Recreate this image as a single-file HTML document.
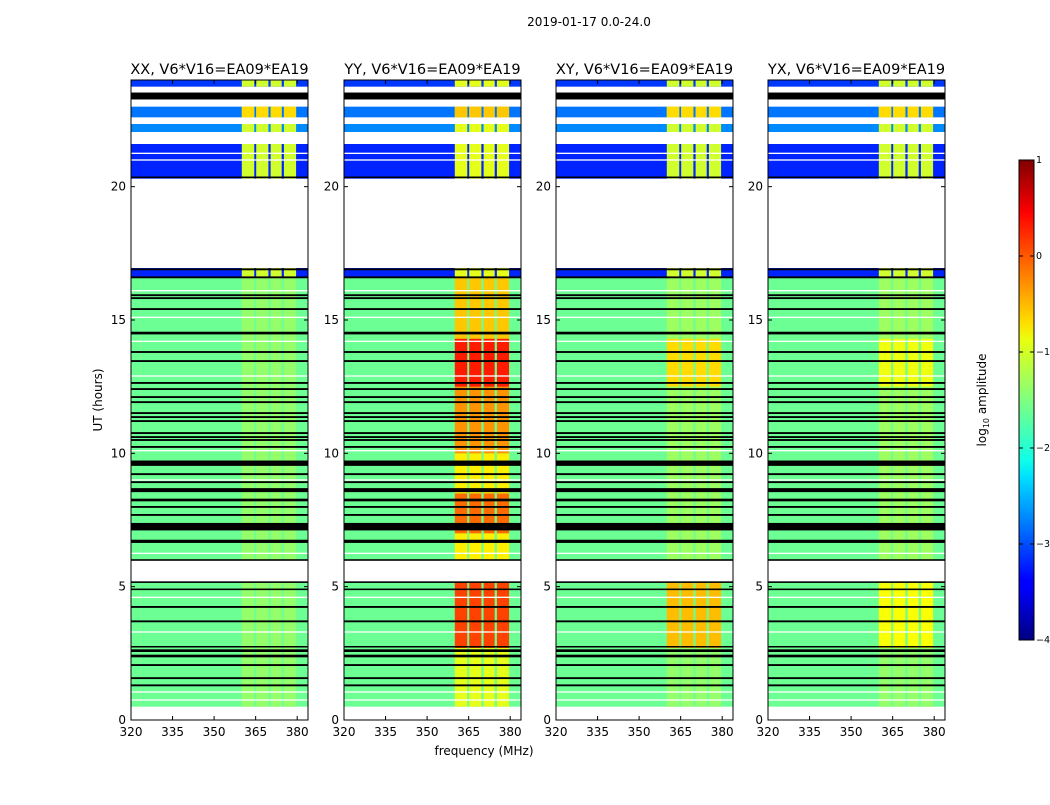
<!DOCTYPE html>
<html><head><meta charset="utf-8">
<style>
html,body{margin:0;padding:0;background:#fff;}
svg text{font-family:"DejaVu Sans","Liberation Sans",sans-serif;fill:#000;}
</style></head>
<body>
<svg id="fig" width="1050" height="800" viewBox="0 0 1050 800" xmlns="http://www.w3.org/2000/svg">
<rect x="0" y="0" width="1050" height="800" fill="#fff"/>
<text x="589" y="26" font-size="12" text-anchor="middle">2019-01-17 0.0-24.0</text>
<text x="484" y="755" font-size="12" text-anchor="middle">frequency (MHz)</text>
<text x="0" y="0" font-size="12" text-anchor="middle" transform="translate(102,400) rotate(-90)">UT (hours)</text>
<g id="panels"></g>
<defs>
<linearGradient id="jet" x1="0" y1="1" x2="0" y2="0">
<stop offset="0" stop-color="#000080"/><stop offset="0.11" stop-color="#0000ff"/><stop offset="0.125" stop-color="#0000ff"/>
<stop offset="0.34" stop-color="#00e0ff"/><stop offset="0.375" stop-color="#10ffe8"/><stop offset="0.5" stop-color="#80ff80"/>
<stop offset="0.625" stop-color="#e8ff10"/><stop offset="0.66" stop-color="#ffe000"/><stop offset="0.875" stop-color="#ff1000"/>
<stop offset="0.89" stop-color="#ff0000"/><stop offset="1" stop-color="#800000"/>
</linearGradient>
</defs>
<rect x="1019" y="160" width="15" height="480" fill="url(#jet)" stroke="#000" stroke-width="1"/>
<g id="cbticks"></g>
<text x="0" y="0" font-size="12" text-anchor="middle" transform="translate(986,400) rotate(-90)">log<tspan font-size="8" dy="3">10</tspan><tspan dy="-3"> amplitude</tspan></text>
</svg>
<script>
// ---- data ----
const panelTitles = ["XX, V6*V16=EA09*EA19","YY, V6*V16=EA09*EA19","XY, V6*V16=EA09*EA19","YX, V6*V16=EA09*EA19"];
const xTicks = [320,335,350,365,380];
const yTicks = [0,5,10,15,20];
const cbTicks = [1,0,-1,-2,-3,-4];
// data segments: [startHour, endHour, baseLog10Amp]
const segments = [[0.5,2.7,-1.6],[2.7,5.15,-1.6],[6.0,16.6,-1.6],[16.6,16.95,-3.2],[20.3,21.6,-3.2],[22.05,22.35,-2.7],[22.6,23.0,-2.8],[23.75,24,-3.1]];
// thin unflagged gaps (white rows): [hour, thickness]
const whiteLines = [[0.75,0.05],[1.05,0.05],[3.3,0.05],[4.6,0.05],[6.25,0.05],[9.0,0.05],[10.1,0.05],[12.9,0.05],[14.2,0.05],[15.1,0.05],[16.1,0.05],[21.0,0.05],[21.25,0.05]];
// flagged (black) rows: [hour, thickness in hours]
const blackLines = [[1.3,0.07],[1.57,0.07],[2.06,0.07],[2.4,0.1],[2.6,0.1],[2.75,0.05],[3.7,0.07],[4.24,0.07],[4.9,0.06],[5.17,0.06],[6.0,0.06],[6.7,0.12],[7.25,0.28],[7.69,0.07],[7.99,0.07],[8.25,0.1],[8.62,0.15],[8.92,0.07],[9.22,0.07],[9.63,0.2],[10.24,0.07],[10.5,0.07],[10.61,0.07],[10.76,0.07],[11.21,0.07],[11.36,0.07],[11.51,0.07],[11.92,0.07],[12.11,0.07],[12.41,0.07],[12.64,0.07],[13.46,0.07],[13.8,0.07],[14.51,0.1],[15.41,0.07],[15.82,0.07],[15.93,0.07],[16.6,0.07],[16.9,0.07],[20.35,0.06],[23.4,0.26]];
// RFI band (360-380 MHz) levels per panel: [start, end, log10Amp]
const bandXX = [[0.5,16.6,-1.4],[16.6,24,-1.1],[22.6,23.0,-0.7]];
const bandYY = [[0.5,2.7,-1.0],[2.7,5.15,0.05],[6.0,7.0,-0.8],[7.0,8.5,-0.15],[8.5,10.0,-0.8],[10.0,12.5,-0.35],[12.5,14.3,0.25],[14.3,16.6,-0.6],[16.6,24,-1.0],[22.6,23.0,-0.6]];
const bandXY = [[0.5,2.7,-1.4],[2.7,5.15,-0.55],[6.0,12.5,-1.35],[12.5,14.3,-0.7],[14.3,16.6,-1.35],[16.6,24,-1.1],[22.6,23.0,-0.7]];
const bandYX = [[0.5,2.7,-1.4],[2.7,5.15,-0.9],[6.0,12.5,-1.35],[12.5,14.3,-0.95],[14.3,16.6,-1.35],[16.6,24,-1.1],[22.6,23.0,-0.7]];
const bands = [bandXX,bandYY,bandXY,bandYX];
const subBands = [[360,364.5],[365.2,369.6],[370.4,374.4],[375.2,379.6]];

// ---- layout ----
const NS="http://www.w3.org/2000/svg";
const panelX=[131,344,556,768], PW=177, PT=80, PB=720;
const fMin=320, fMax=320+PW/2.77;
function xs(p,f){return panelX[p]+(f-fMin)/(fMax-fMin)*PW;}
function ys(h){return PB-h/24*(PB-PT);}
function jet(v){let t=(v+4)/5;t=Math.max(0,Math.min(1,t));
 const c=x=>Math.round(255*Math.max(0,Math.min(1,x)));
 return `rgb(${c(1.5-Math.abs(4*t-3))},${c(1.5-Math.abs(4*t-2))},${c(1.5-Math.abs(4*t-1))})`;}
function mk(tag,attrs,parent){const e=document.createElementNS(NS,tag);for(const k in attrs)e.setAttribute(k,attrs[k]);parent.appendChild(e);return e;}
const root=document.getElementById('panels');
for(let p=0;p<4;p++){
 const g=mk('g',{},root);
 
 
 for(const [s,e,l] of segments){
  const r=mk('rect',{x:xs(p,fMin),y:ys(e),width:PW,height:ys(s)-ys(e),fill:jet(l)},g);
  
  
  for(const [bs,be,bl] of bands[p]){
   const a=Math.max(s,bs),b=Math.min(e,be); if(b<=a) continue;
   for(const [f0,f1] of subBands){
    const br=mk('rect',{x:xs(p,f0),y:ys(b),width:xs(p,f1)-xs(p,f0),height:ys(a)-ys(b),fill:jet(bl)},g);
    
    
   }
  }
 }
 for(const [h,w] of whiteLines){
  const wl=mk('rect',{x:panelX[p],y:ys(h+w/2),width:PW,height:Math.max(1,ys(h-w/2)-ys(h+w/2)),fill:'#fff'},g);
  
  
 }
 for(const [h,w] of blackLines){
  const bl=mk('rect',{x:panelX[p],y:ys(h+w/2),width:PW,height:Math.max(1.5,ys(h-w/2)-ys(h+w/2)),fill:'#000'},g);
  
  
 }
 const fr=mk('rect',{x:panelX[p],y:PT,width:PW,height:PB-PT,fill:'none',stroke:'#000','stroke-width':1},g);
 
 
 const t=mk('text',{x:panelX[p]+PW/2,y:74,'font-size':14.5,'text-anchor':'middle'},g);
 t.textContent=panelTitles[p];
 
 
 for(const f of xTicks){
  const x=xs(p,f);
  mk('line',{x1:x,y1:PB,x2:x,y2:PB-4,stroke:'#000'},g);
  mk('line',{x1:x,y1:PT,x2:x,y2:PT+4,stroke:'#000'},g);
  const tl=mk('text',{x:x,y:PB+16,'font-size':12,'text-anchor':'middle'},g);
  tl.textContent=f;
  
  
 }
 for(const h of yTicks){
  const y=ys(h);
  mk('line',{x1:panelX[p],y1:y,x2:panelX[p]+4,y2:y,stroke:'#000'},g);
  mk('line',{x1:panelX[p]+PW,y1:y,x2:panelX[p]+PW-4,y2:y,stroke:'#000'},g);
  const tl=mk('text',{x:panelX[p]-5,y:y+4,'font-size':12,'text-anchor':'end'},g);
  tl.textContent=h;
  
  
 }
}
const cg=document.getElementById('cbticks');
for(const v of cbTicks){
 const y=160+(1-v)/5*480;
 mk('line',{x1:1034,y1:y,x2:1030,y2:y,stroke:'#000'},cg);
 mk('line',{x1:1019,y1:y,x2:1023,y2:y,stroke:'#000'},cg);
 const tl=mk('text',{x:1036,y:y+3,'font-size':9.5},cg);
 tl.textContent=v<0?'\u2212'+(-v):v;
 
 
}
</script>
</body></html>
